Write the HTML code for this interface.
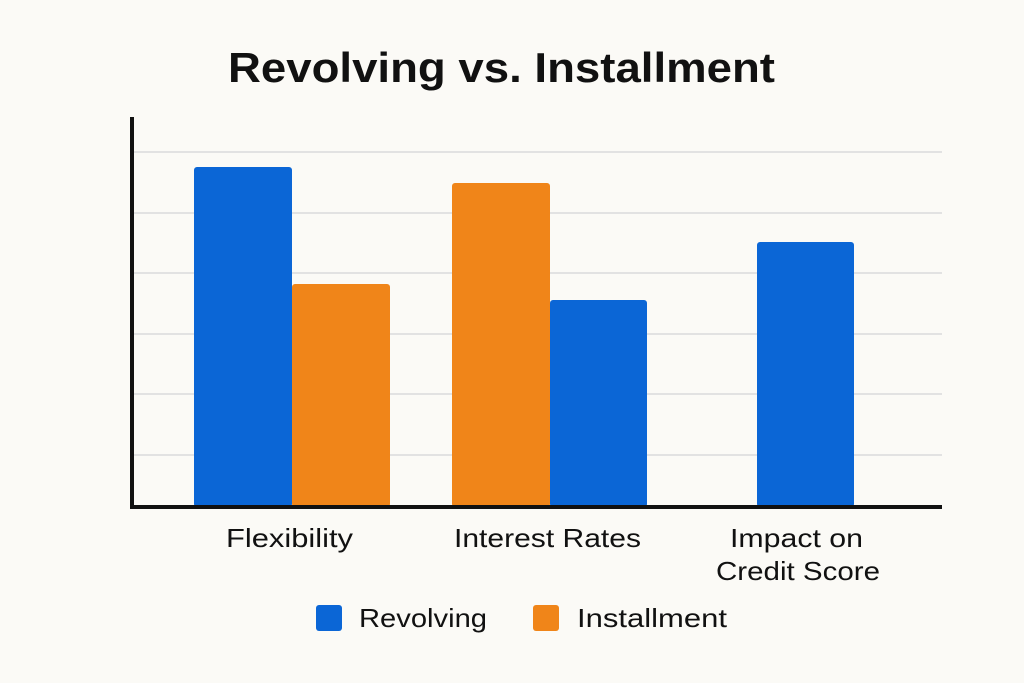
<!DOCTYPE html>
<html><head><meta charset="utf-8"><style>
html,body{margin:0;padding:0;background:#fbfaf6;}
svg{display:block;}
text{font-family:"Liberation Sans",sans-serif;fill:#111;}
</style></head><body>
<svg width="1024" height="683" viewBox="0 0 1024 683">
<rect width="1024" height="683" fill="#fbfaf6"/>
<text x="228" y="82" font-size="42" font-weight="bold" textLength="547" lengthAdjust="spacingAndGlyphs">Revolving vs. Installment</text>
<g stroke="#e2e2e2" stroke-width="2">
<line x1="133" y1="152" x2="942" y2="152"/>
<line x1="133" y1="213" x2="942" y2="213"/>
<line x1="133" y1="273" x2="942" y2="273"/>
<line x1="133" y1="334" x2="942" y2="334"/>
<line x1="133" y1="394" x2="942" y2="394"/>
<line x1="133" y1="455" x2="942" y2="455"/>
</g>
<rect x="194" y="167" width="98" height="340" rx="3" fill="#0b66d6"/>
<rect x="292" y="284" width="98" height="223" rx="3" fill="#f08519"/>
<rect x="452" y="183" width="98" height="324" rx="3" fill="#f08519"/>
<rect x="550" y="300" width="97" height="207" rx="3" fill="#0b66d6"/>
<rect x="757" y="242" width="97" height="265" rx="3" fill="#0b66d6"/>
<line x1="132" y1="117" x2="132" y2="508" stroke="#111" stroke-width="4"/>
<line x1="130" y1="507" x2="942" y2="507" stroke="#111" stroke-width="4"/>
<text x="226" y="547" font-size="26" textLength="127" lengthAdjust="spacingAndGlyphs">Flexibility</text>
<text x="454" y="547" font-size="26" textLength="187" lengthAdjust="spacingAndGlyphs">Interest Rates</text>
<text x="730" y="547" font-size="26" textLength="133" lengthAdjust="spacingAndGlyphs">Impact on</text>
<text x="716" y="580" font-size="26" textLength="164" lengthAdjust="spacingAndGlyphs">Credit Score</text>
<rect x="316" y="605" width="26" height="26" rx="3" fill="#0b66d6"/>
<text x="359" y="627" font-size="26" textLength="128" lengthAdjust="spacingAndGlyphs">Revolving</text>
<rect x="533" y="605" width="26" height="26" rx="3" fill="#f08519"/>
<text x="577" y="627" font-size="26" textLength="150" lengthAdjust="spacingAndGlyphs">Installment</text>
</svg>
</body></html>
